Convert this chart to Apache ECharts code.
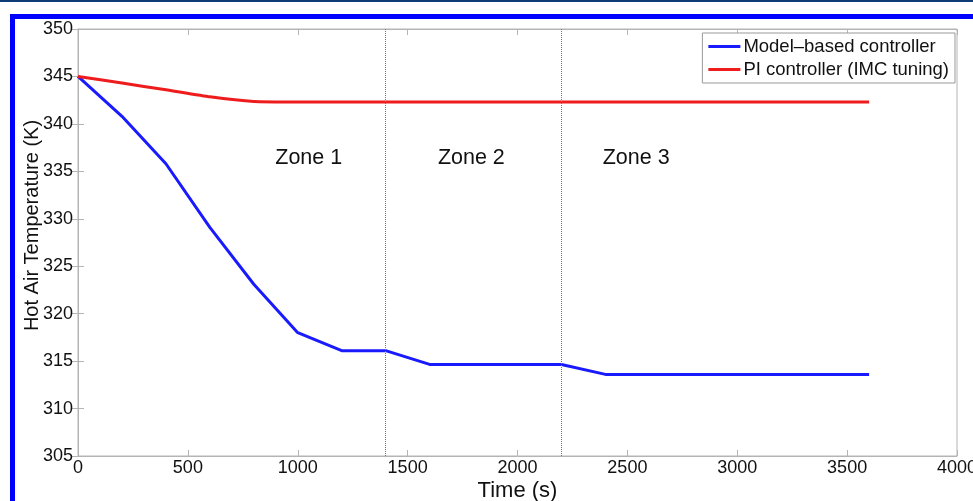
<!DOCTYPE html>
<html>
<head>
<meta charset="utf-8">
<script src="https://cdn.jsdelivr.net/npm/echarts@6/dist/echarts.min.js"></script>
<style>
  html, body { margin: 0; padding: 0; background: #fff; }
  #main { width: 973px; height: 501px; }
</style>
</head>
<body>
<div id="main"></div>
<script>
// data
const timeSteps = [0, 200, 400, 600, 800, 1000, 1200, 1400, 1600, 1800, 2000, 2200, 2400, 2600, 2800, 3000, 3200, 3400, 3600];
const modelBased = [345, 340.8, 335.8, 329.1, 323.1, 318.0, 316.1, 316.1, 314.65, 314.65, 314.65, 314.65, 313.6, 313.6, 313.6, 313.6, 313.6, 313.6, 313.6];
const piImc = [345, 344.3, 343.6, 342.85, 342.35, 342.3, 342.3, 342.3, 342.3, 342.3, 342.3, 342.3, 342.3, 342.3, 342.3, 342.3, 342.3, 342.3, 342.3];
const zoneBounds = [1400, 2200];
const zoneLabels = [['Zone 1', 1050, 336.4], ['Zone 2', 1790, 336.4], ['Zone 3', 2540, 336.4]];

const font = 'Liberation Sans, Arial, Helvetica, sans-serif';
const axisGray = '#b4b4b4';

window.onload = function () {
    let myChart = echarts.init(document.getElementById('main'));

    const pairs = (ys) => timeSteps.map((t, i) => [t, ys[i]]);

    let option = {
        backgroundColor: '#fff',
        animation: false,
        textStyle: { fontFamily: font },
        graphic: [
            { type: 'rect', shape: { x: 0, y: 0, width: 973, height: 2 }, style: { fill: '#0d3b78' } },
            { type: 'rect', shape: { x: 10, y: 14, width: 963, height: 5 }, style: { fill: '#0000ff' } },
            { type: 'rect', shape: { x: 10, y: 14, width: 5, height: 487 }, style: { fill: '#0000ff' } }
        ],
        grid: {
            left: 78, right: 16, top: 29, bottom: 45,
            containLabel: false, outerBoundsMode: 'none',
            show: true, borderColor: axisGray, borderWidth: 1
        },
        legend: {
            right: 18, top: 33,
            orient: 'vertical',
            padding: [4, 6, 4, 6],
            itemGap: 4,
            itemWidth: 32, itemHeight: 3,
            icon: 'rect',
            backgroundColor: '#fff',
            borderColor: '#999', borderWidth: 1, borderRadius: 0,
            textStyle: { fontSize: 18.5, color: '#111', fontFamily: font, padding: [0, 0, 0, -2] },
            data: ['Model\u2013based controller', 'PI controller (IMC tuning)']
        },
        xAxis: [{
            type: 'value', min: 0, max: 4000, interval: 500,
            name: 'Time (s)', nameLocation: 'middle', nameGap: 24, nameMoveOverlap: false,
            nameTextStyle: { fontSize: 22, color: '#111', fontFamily: font },
            axisLine: { show: true, lineStyle: { color: axisGray } },
            axisTick: { show: true, inside: true, length: 6, lineStyle: { color: axisGray } },
            axisLabel: { fontSize: 18, color: '#111', margin: 3, fontFamily: font, formatter: v => String(v) },
            splitLine: { show: false }
        }, {
            type: 'value', min: 0, max: 4000, interval: 500, position: 'top',
            axisLine: { show: true, lineStyle: { color: axisGray } },
            axisTick: { show: true, inside: true, length: 6, lineStyle: { color: axisGray } },
            axisLabel: { show: false },
            splitLine: { show: false }
        }],
        yAxis: [{
            type: 'value', min: 305, max: 350, interval: 5,
            name: 'Hot Air Temperature (K)', nameLocation: 'middle', nameGap: 36, nameMoveOverlap: false,
            nameTextStyle: { fontSize: 20, color: '#111', fontFamily: font, padding: [0, 0, 0, 34] },
            axisLine: { show: true, lineStyle: { color: axisGray } },
            axisTick: { show: true, inside: true, length: 6, lineStyle: { color: axisGray } },
            axisLabel: { fontSize: 18, color: '#111', margin: 5, fontFamily: font },
            splitLine: { show: false }
        }, {
            type: 'value', min: 305, max: 350, interval: 5, position: 'right',
            axisLine: { show: true, lineStyle: { color: axisGray } },
            axisTick: { show: true, inside: true, length: 6, lineStyle: { color: axisGray } },
            axisLabel: { show: false },
            splitLine: { show: false }
        }],
        series: [
            {
                name: 'Model\u2013based controller',
                type: 'line',
                data: pairs(modelBased),
                showSymbol: false,
                lineStyle: { color: '#1a1aff', width: 3 },
                itemStyle: { color: '#1a1aff' },
                z: 3,
                markLine: {
                    silent: true,
                    symbol: 'none',
                    label: { show: false },
                    lineStyle: { color: '#777', type: 'dotted', width: 1 },
                    data: zoneBounds.map(x => ({ xAxis: x }))
                }
            },
            {
                name: 'PI controller (IMC tuning)',
                type: 'line',
                data: pairs(piImc),
                showSymbol: false,
                smooth: 0.15,
                lineStyle: { color: '#ee1c1c', width: 3 },
                itemStyle: { color: '#ee1c1c' },
                z: 3
            },
            {
                name: 'zones',
                type: 'scatter',
                symbolSize: 0,
                silent: true,
                data: zoneLabels.map(z => ({ value: [z[1], z[2]], name: z[0] })),
                label: {
                    show: true, position: 'inside',
                    formatter: p => p.name,
                    fontSize: 21.5, color: '#111', opacity: 1, fontFamily: font
                },
                emphasis: { disabled: true }
            }
        ]
    };
    myChart.setOption(option);
};
</script>
</body>
</html>
